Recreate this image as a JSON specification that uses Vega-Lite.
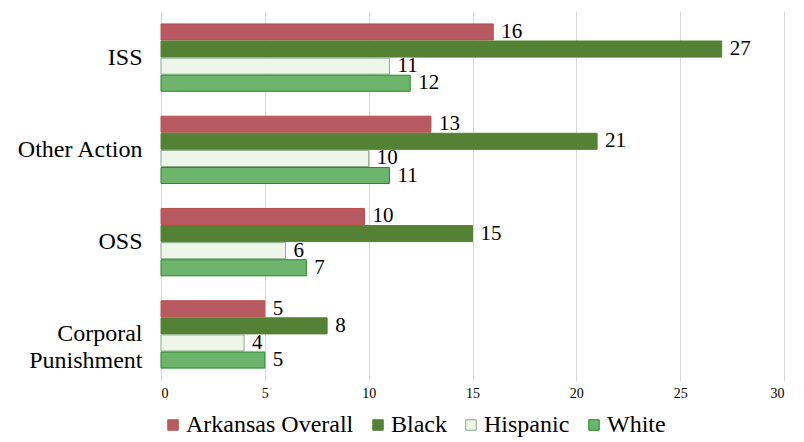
{
  "$schema": "https://vega.github.io/schema/vega-lite/v6.json",
  "width": 623,
  "height": 370,
  "autosize": {"type": "none"},
  "padding": {"left": 161, "top": 11, "right": 20, "bottom": 61},
  "background": "white",
  "config": {
    "view": {"stroke": null},
    "font": "'Liberation Serif', 'Times New Roman', serif",
    "legend": {"labelFont": "'Liberation Serif', 'Times New Roman', serif"},
    "text": {"font": "'Liberation Serif', 'Times New Roman', serif"}
  },
  "data": {
    "values": [
      {"cat": "ISS", "series": "Arkansas Overall", "value": 16},
      {"cat": "ISS", "series": "Black", "value": 27},
      {"cat": "ISS", "series": "Hispanic", "value": 11},
      {"cat": "ISS", "series": "White", "value": 12},
      {"cat": "Other Action", "series": "Arkansas Overall", "value": 13},
      {"cat": "Other Action", "series": "Black", "value": 21},
      {"cat": "Other Action", "series": "Hispanic", "value": 10},
      {"cat": "Other Action", "series": "White", "value": 11},
      {"cat": "OSS", "series": "Arkansas Overall", "value": 9.8},
      {"cat": "OSS", "series": "Black", "value": 15},
      {"cat": "OSS", "series": "Hispanic", "value": 6},
      {"cat": "OSS", "series": "White", "value": 7},
      {"cat": "Corporal Punishment", "series": "Arkansas Overall", "value": 5},
      {"cat": "Corporal Punishment", "series": "Black", "value": 8},
      {"cat": "Corporal Punishment", "series": "Hispanic", "value": 4},
      {"cat": "Corporal Punishment", "series": "White", "value": 5}
    ]
  },
  "encoding": {
    "y": {
      "field": "cat", "type": "nominal",
      "sort": ["ISS", "Other Action", "OSS", "Corporal Punishment"],
      "scale": {"paddingInner": 0.27, "paddingOuter": 0.14},
      "axis": {
        "title": null, "domain": false, "ticks": false,
        "labelFont": "'Liberation Serif', 'Times New Roman', serif", "labelFontSize": 24, "labelColor": "#000000",
        "labelPadding": 19, "labelLimit": 200, "labelLineHeight": 27,
        "labelExpr": "datum.label == 'Corporal Punishment' ? ['Corporal', 'Punishment'] : datum.label"
      }
    },
    "yOffset": {
      "field": "series", "type": "nominal",
      "sort": ["Arkansas Overall", "Black", "Hispanic", "White"],
      "scale": {"paddingInner": 0.06}
    },
    "x": {
      "field": "value", "type": "quantitative",
      "scale": {"domain": [0, 30], "nice": false},
      "axis": {
        "title": null, "domain": false, "ticks": false, "values": [0, 5, 10, 15, 20, 25, 30],
        "grid": true, "gridColor": "#d9d9d9",
        "labelFont": "'Liberation Serif', 'Times New Roman', serif", "labelFontSize": 14, "labelColor": "#000000",
        "labelPadding": 5
      }
    }
  },
  "layer": [
    {
      "mark": {"type": "bar", "strokeWidth": 1},
      "encoding": {
        "fill": {
          "field": "series", "type": "nominal",
          "sort": ["Arkansas Overall", "Black", "Hispanic", "White"],
          "scale": {
            "domain": ["Arkansas Overall", "Black", "Hispanic", "White"],
            "range": ["#b85a62", "#548235", "#eef6ea", "#6db46d"]
          },
          "legend": {
            "title": null, "orient": "bottom", "direction": "horizontal",
            "symbolType": "square", "symbolSize": 110, "symbolStrokeWidth": 1,
            "labelFont": "'Liberation Serif', 'Times New Roman', serif", "labelFontSize": 24, "labelColor": "#000000",
            "columnPadding": 12, "offset": 13, "labelOffset": 1, "labelLimit": 300
          }
        },
        "stroke": {
          "field": "series", "type": "nominal",
          "scale": {
            "domain": ["Arkansas Overall", "Black", "Hispanic", "White"],
            "range": ["#c0504d", "#548235", "#8aa888", "#228b22"]
          },
          "legend": null
        }
      }
    },
    {
      "mark": {"type": "text", "align": "left", "baseline": "middle", "dx": 8, "fontSize": 21, "font": "'Liberation Serif', 'Times New Roman', serif", "color": "#000000"},
      "encoding": {
        "text": {"field": "value", "type": "quantitative", "format": ".0f"}
      }
    }
  ]
}
